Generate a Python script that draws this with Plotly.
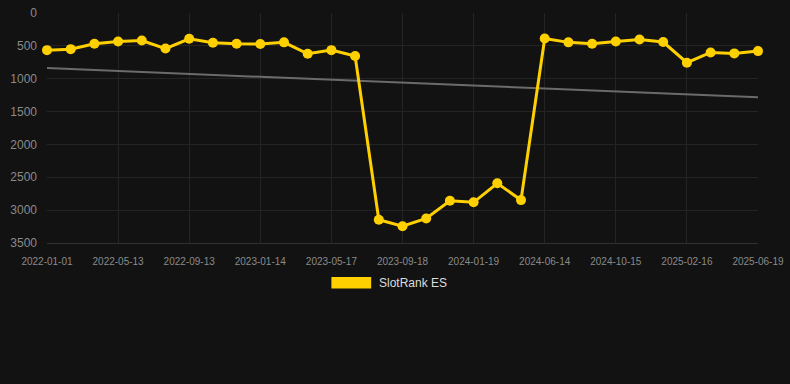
import numpy as np
import plotly.graph_objects as go

# ---- data ----
tick_labels = ["2022-01-01", "2022-05-13", "2022-09-13", "2023-01-14", "2023-05-17",
               "2023-09-18", "2024-01-19", "2024-06-14", "2024-10-15", "2025-02-16",
               "2025-06-19"]
rank_values = [565, 550, 467, 433, 418, 541, 393, 452, 467, 472, 447, 620, 565, 654,
               3147, 3245, 3127, 2857, 2881, 2591, 2847,
               388, 447, 467, 433, 403, 442, 757, 600, 615, 580]
series_name = "SlotRank ES"
y_ticks = [0, 500, 1000, 1500, 2000, 2500, 3000, 3500]

idx = np.arange(len(rank_values))
tick_pos = idx[::3]

# linear trend
coef = np.polyfit(idx, rank_values, 1)
trend = np.polyval(coef, idx)

BG = "#121212"
GOLD = "#FFD000"
GRID = "#242424"
TICKC = "#8a8a8a"
FONT = "Liberation Sans, Arial, sans-serif"

L, R, T, B = 47, 28, 6, 141
PW = 790 - L - R
PH = 384 - T - B

fig = go.Figure()
fig.add_trace(go.Scatter(
    x=idx, y=trend, mode="lines",
    line=dict(color="#6b6b6b", width=2),
    showlegend=False, hoverinfo="skip", cliponaxis=False))
fig.add_trace(go.Scatter(
    x=idx, y=rank_values, mode="lines+markers", name=series_name,
    line=dict(color=GOLD, width=3),
    marker=dict(color=GOLD, size=10),
    showlegend=False, cliponaxis=False))

fig.update_layout(
    width=790, height=384,
    paper_bgcolor=BG, plot_bgcolor=BG,
    margin=dict(l=L, r=R, t=T, b=B),
    font=dict(family=FONT, color=TICKC),
    xaxis=dict(range=[0, len(rank_values) - 1], tickvals=tick_pos, ticktext=tick_labels,
               showgrid=True, gridcolor=GRID, gridwidth=1, zeroline=False,
               showline=True, linecolor="#303030", linewidth=1,
               tickfont=dict(size=10, color=TICKC),
               ticks="", ticklabelstandoff=9, ticklabeloverflow="allow"),
    yaxis=dict(range=[3500, 0], tickvals=y_ticks,
               showgrid=True, gridcolor=GRID, gridwidth=1, zeroline=False,
               showline=False, tickfont=dict(size=12, color=TICKC),
               ticks="", ticklabelstandoff=9, ticklabeloverflow="allow"),
    shapes=[dict(type="rect", xref="paper", yref="paper",
                 x0=(333 - L) / PW, x1=(373 - L) / PW,
                 y0=(384 - B - 290) / PH, y1=(384 - B - 278) / PH,
                 fillcolor=GOLD, line=dict(width=0))],
    annotations=[dict(text=series_name, xref="paper", yref="paper",
                      x=(379 - L) / PW, y=(384 - B - 284) / PH,
                      xanchor="left", yanchor="middle", showarrow=False,
                      font=dict(size=12, color="#dddddd", family=FONT))],
)

fig.write_html("out.html", config={"displayModeBar": False},
               post_script="document.body.style.margin='0';document.body.style.background='#121212';")
